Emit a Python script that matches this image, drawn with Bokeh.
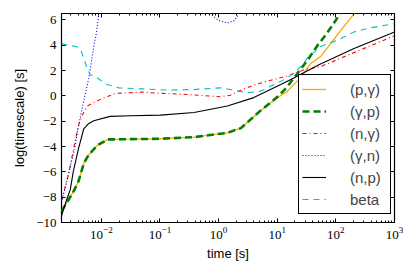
import numpy as np
from bokeh.plotting import figure
from bokeh.models import (Range1d, LinearAxis, LogAxis, Legend, LegendItem,
                          CustomJSTickFormatter, FixedTicker, LogTicker)
from bokeh.embed import file_html
from bokeh.resources import INLINE

# ---- data (log10 of time [s], log10 of timescale [s]) ----
pg_logt = [-2.68, -2.59, -2.47, -2.39, -2.30, -2.22, -2.07, -1.89, -1.5, -1.0, -0.42, 0.15, 0.38,
           0.72, 1.0, 1.17, 1.37, 1.57, 1.74, 1.91, 2.085, 2.31, 2.45]
pg_val = [-9.1, -8.44, -7.5, -6.75, -5.33, -4.68, -3.91, -3.44, -3.42, -3.39, -3.26, -2.92, -2.55,
          -1.15, -0.15, 0.35, 1.3, 2.55, 3.1, 4.13, 5.17, 6.47, 7.4]

gp_logt = [-2.68, -2.59, -2.47, -2.39, -2.30, -2.22, -2.07, -1.89, -1.5, -1.0, -0.42, 0.15, 0.38,
           0.72, 1.0, 1.15, 1.35, 1.52, 1.69, 1.8, 1.94, 2.06, 2.2]
gp_val = [-9.1, -8.44, -7.5, -6.75, -5.33, -4.68, -3.91, -3.44, -3.42, -3.39, -3.26, -2.92, -2.55,
          -1.15, -0.1, 0.6, 1.8, 2.84, 4.0, 4.65, 5.56, 6.4, 7.3]

ng_logt = [-2.68, -2.56, -2.44, -2.39, -2.33, -2.24, -2.02, -1.76, -1.31, -0.99, -0.54, 0.03, 0.2,
           0.38, 0.63, 0.89, 1.15, 1.46, 1.74, 3.0]
ng_val = [-8.3, -6.2, -3.39, -2.35, -1.57, -0.80, -0.28, 0.19, 0.29, 0.2, 0.11, -0.07, 0.05,
          0.45, 0.89, 1.23, 1.54, 2.06, 2.31, 4.75]

gn_logt = [-2.68, -2.55, -2.44, -2.39, -2.33, -2.27, -2.22, -2.16, -2.13, -2.085, -2.046, -2.0,
           np.nan, -0.3, -0.14, 0.0, 0.15, 0.27, 0.35, 0.5]
gn_val = [-8.4, -6.0, -3.77, -2.35, -1.05, 0.25, 1.28, 2.97, 3.87, 4.96, 6.33, 7.5,
          np.nan, 7.5, 6.5, 5.95, 5.75, 5.95, 6.5, 7.5]

np_logt = [-2.68, -2.6, -2.53, -2.48, -2.39, -2.30, -2.22, -2.13, -1.85, -1.5, -0.99, -0.42, 0.15,
           0.6, 0.77, 1.06, 1.3, 1.71, 2.31, 3.0]
np_val = [-9.5, -8.3, -7.4, -6.0, -4.16, -2.6, -2.2, -1.96, -1.62, -1.57, -1.52, -1.31, -0.80,
          -0.14, 0.25, 0.89, 1.45, 2.45, 3.74, 5.04]

beta_logt = [-2.68, -2.56, -2.415, -2.36, -2.30, -2.245, -2.19, -2.07, -1.9, -1.70, -1.3, -0.86,
             -0.42, 0.03, 0.2, 0.49, 0.72, 0.945, 1.117, 1.29, 1.43, 1.515, 1.74, 2.03, 2.31, 2.6, 3.0]
beta_val = [4.12, 4.0, 3.87, 3.74, 2.97, 2.19, 1.67, 1.41, 0.89, 0.63, 0.55, 0.45,
            0.5, 0.63, 0.5, 0.25, 0.37, 0.89, 1.28, 1.8, 2.45, 3.0, 3.9, 4.4, 5.05, 5.38, 5.7]

labels = ["(p,\u03b3)", "(\u03b3,p)", "(n,\u03b3)", "(\u03b3,n)", "(n,p)", "beta"]
y_ticks = [-10, -8, -6, -4, -2, 0, 2, 4, 6]


def t(a):
    return [10 ** v for v in a]


p = figure(width=403, height=263, x_axis_type="log",
           x_range=Range1d(10 ** -2.68, 1000), y_range=Range1d(-10, 6.5),
           output_backend="svg", toolbar_location=None,
           min_border_left=61, min_border_right=9, min_border_top=13, min_border_bottom=38)
p.background_fill_color = "white"
p.border_fill_color = "white"
p.outline_line_color = "black"
p.outline_line_width = 1.2
p.xgrid.visible = False
p.ygrid.visible = False

r1 = p.line(t(pg_logt), pg_val, line_color="#FFA500", line_width=1.3)
r2 = p.line(t(gp_logt), gp_val, line_color="#008000", line_width=2.6, line_dash="7 4")
r3 = p.line(t(ng_logt), ng_val, line_color="#FF0000", line_width=1.1, line_dash="4 3 1 3")
r4 = p.line(t(gn_logt), gn_val, line_color="#0000FF", line_width=1.1, line_dash="1 2")
r5 = p.line(t(np_logt), np_val, line_color="black", line_width=1.1)
r6 = p.line(t(beta_logt), beta_val, line_color="#00BFBF", line_width=1.1, line_dash="6 5")

tick_font = "Liberation Serif"

xa = p.xaxis[0]
xa.ticker = LogTicker(num_minor_ticks=10)
xa.axis_label = "time [s]"
ya = p.yaxis[0]
ya.ticker = FixedTicker(ticks=y_ticks)
ya.formatter = CustomJSTickFormatter(code="return tick < 0 ? '\u2212' + Math.abs(tick) : String(tick);")
ya.axis_label = "log(timescale) [s]"

for ax in (xa, ya):
    ax.axis_line_color = None
    ax.major_tick_in = 4
    ax.major_tick_out = 0
    ax.minor_tick_in = 2
    ax.minor_tick_out = 0
    ax.major_label_text_font = tick_font
    ax.major_label_text_font_size = "13px"
    ax.major_label_text_color = "black"
    ax.axis_label_text_font = "Liberation Sans"
    ax.axis_label_text_font_size = "13px"
    ax.axis_label_text_font_style = "normal"
    ax.axis_label_text_color = "black"
xa.major_label_standoff = 4
xa.axis_label_standoff = 4
ya.major_label_standoff = 5
ya.axis_label_standoff = 6

ra = LinearAxis(ticker=FixedTicker(ticks=y_ticks))
ta = LogAxis(ticker=LogTicker(num_minor_ticks=10))
for ax in (ra, ta):
    ax.axis_line_color = None
    ax.major_tick_in = 4
    ax.major_tick_out = 0
    ax.minor_tick_in = 2
    ax.minor_tick_out = 0
    ax.major_label_text_font_size = "1px"
    ax.major_label_text_alpha = 0
    ax.major_label_standoff = 0
p.add_layout(ra, "right")
p.add_layout(ta, "above")

legend = Legend(items=[LegendItem(label=l, renderers=[r]) for l, r in
                       zip(labels, [r1, r2, r3, r4, r5, r6])],
                location=(237, 8), margin=0, padding=3, spacing=0,
                glyph_width=24, glyph_height=22, label_height=22, label_width=37,
                label_standoff=24,
                label_text_font="Liberation Sans", label_text_font_size="15px",
                border_line_color="black", border_line_width=1, border_line_alpha=1,
                background_fill_color="white", background_fill_alpha=1)
p.add_layout(legend)

open("out.html", "w").write(file_html(p, INLINE))
